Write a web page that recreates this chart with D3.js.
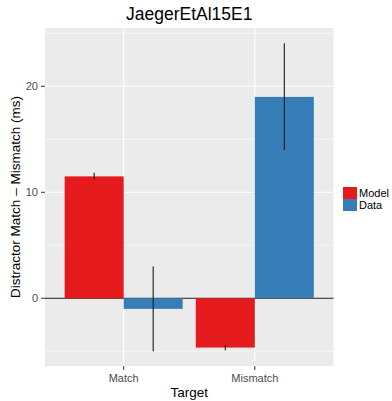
<!DOCTYPE html>
<html>
<head>
<meta charset="utf-8">
<script src="https://cdn.jsdelivr.net/npm/d3@7"></script>
<style>
  body { margin: 0; background: #fff; }
  text { font-family: "Liberation Sans", Arial, sans-serif; }
</style>
</head>
<body>
<div id="chart"></div>
<script>
var targets = ["Match", "Mismatch"];
var groups = ["Model", "Data"];
var modelMean = [11.5, -4.65];
var modelLower = [11.2, -4.9];
var modelUpper = [11.85, -4.4];
var dataMean = [-1.0, 19.0];
var dataLower = [-5.0, 14.0];
var dataUpper = [3.0, 24.05];
var yTicks = [0, 10, 20];
var yMinor = [-5, 5, 15, 25];

var colors = {Model: "#E41A1C", Data: "#377EB8"};

// build rows from the arrays
var rows = [];
targets.forEach(function(t, i) {
  rows.push({target: t, group: "Model", mean: modelMean[i], lo: modelLower[i], hi: modelUpper[i]});
  rows.push({target: t, group: "Data", mean: dataMean[i], lo: dataLower[i], hi: dataUpper[i]});
});

var W = 392, H = 401;
var panel = {left: 45, right: 333.5, top: 28, bottom: 366};

var svg = d3.select("#chart").append("svg")
    .attr("width", W)
    .attr("height", H);

var x = d3.scaleBand()
    .domain(targets)
    .range([panel.left, panel.right])
    .paddingInner(0.1)
    .paddingOuter(0.15);

var x1 = d3.scaleBand()
    .domain(groups)
    .range([0, x.bandwidth()]);

var y = d3.scaleLinear()
    .domain([-6.39, 25.5])
    .range([panel.bottom, panel.top]);

// panel background
svg.append("rect")
    .attr("x", panel.left)
    .attr("y", panel.top)
    .attr("width", panel.right - panel.left)
    .attr("height", panel.bottom - panel.top)
    .attr("fill", "#EBEBEB");

// grid lines
svg.selectAll(".minor").data(yMinor).enter().append("line")
    .attr("x1", panel.left).attr("x2", panel.right)
    .attr("y1", function(d) { return y(d); })
    .attr("y2", function(d) { return y(d); })
    .attr("stroke", "#fff").attr("stroke-width", 0.6);

svg.selectAll(".major").data(yTicks).enter().append("line")
    .attr("x1", panel.left).attr("x2", panel.right)
    .attr("y1", function(d) { return y(d); })
    .attr("y2", function(d) { return y(d); })
    .attr("stroke", "#fff").attr("stroke-width", 1.1);

svg.selectAll(".vgrid").data(targets).enter().append("line")
    .attr("x1", function(d) { return x(d) + x.bandwidth() / 2; })
    .attr("x2", function(d) { return x(d) + x.bandwidth() / 2; })
    .attr("y1", panel.top).attr("y2", panel.bottom)
    .attr("stroke", "#fff").attr("stroke-width", 1.1);

// zero line
svg.append("line")
    .attr("x1", panel.left).attr("x2", panel.right)
    .attr("y1", y(0)).attr("y2", y(0))
    .attr("stroke", "#1a1a1a").attr("stroke-width", 1);

// bars
svg.selectAll(".bar").data(rows).enter().append("rect")
    .attr("x", function(d) { return x(d.target) + x1(d.group); })
    .attr("width", x1.bandwidth())
    .attr("y", function(d) { return y(Math.max(0, d.mean)); })
    .attr("height", function(d) { return Math.abs(y(d.mean) - y(0)); })
    .attr("fill", function(d) { return colors[d.group]; });

// error bars
svg.selectAll(".err").data(rows).enter().append("line")
    .attr("x1", function(d) { return x(d.target) + x1(d.group) + x1.bandwidth() / 2; })
    .attr("x2", function(d) { return x(d.target) + x1(d.group) + x1.bandwidth() / 2; })
    .attr("y1", function(d) { return y(d.lo); })
    .attr("y2", function(d) { return y(d.hi); })
    .attr("stroke", "#1a1a1a").attr("stroke-width", 1.1);

// y axis
var yAxis = svg.append("g");
yAxis.selectAll("line").data(yTicks).enter().append("line")
    .attr("x1", panel.left - 4).attr("x2", panel.left)
    .attr("y1", function(d) { return y(d); })
    .attr("y2", function(d) { return y(d); })
    .attr("stroke", "#333").attr("stroke-width", 1);
yAxis.selectAll("text").data(yTicks).enter().append("text")
    .attr("x", panel.left - 7)
    .attr("y", function(d) { return y(d); })
    .attr("dy", "0.36em")
    .attr("text-anchor", "end")
    .attr("font-size", "11px")
    .attr("fill", "#4D4D4D")
    .text(function(d) { return d; });

// x axis
var xAxis = svg.append("g");
xAxis.selectAll("line").data(targets).enter().append("line")
    .attr("x1", function(d) { return x(d) + x.bandwidth() / 2; })
    .attr("x2", function(d) { return x(d) + x.bandwidth() / 2; })
    .attr("y1", panel.bottom).attr("y2", panel.bottom + 4)
    .attr("stroke", "#333").attr("stroke-width", 1);
xAxis.selectAll("text").data(targets).enter().append("text")
    .attr("x", function(d) { return x(d) + x.bandwidth() / 2; })
    .attr("y", 382)
    .attr("text-anchor", "middle")
    .attr("font-size", "11px")
    .attr("fill", "#4D4D4D")
    .text(function(d) { return d; });

// titles
svg.append("text")
    .attr("x", (panel.left + panel.right) / 2)
    .attr("y", 20)
    .attr("text-anchor", "middle")
    .attr("font-size", "17.5px")
    .text("JaegerEtAl15E1");

svg.append("text")
    .attr("x", (panel.left + panel.right) / 2)
    .attr("y", 397)
    .attr("text-anchor", "middle")
    .attr("font-size", "13.5px")
    .text("Target");

svg.append("text")
    .attr("transform", "translate(20," + ((panel.top + panel.bottom) / 2) + ") rotate(-90)")
    .attr("text-anchor", "middle")
    .attr("font-size", "13.5px")
    .text("Distractor Match \u2013 Mismatch (ms)");

// legend
var legend = svg.append("g");
groups.forEach(function(g, i) {
  legend.append("rect")
      .attr("x", 343)
      .attr("y", 187 + i * 12)
      .attr("width", 14)
      .attr("height", 12)
      .attr("fill", colors[g]);
  legend.append("text")
      .attr("x", 359)
      .attr("y", 193 + i * 12)
      .attr("dy", "0.36em")
      .attr("font-size", "11px")
      .text(g);
});
</script>
</body>
</html>
